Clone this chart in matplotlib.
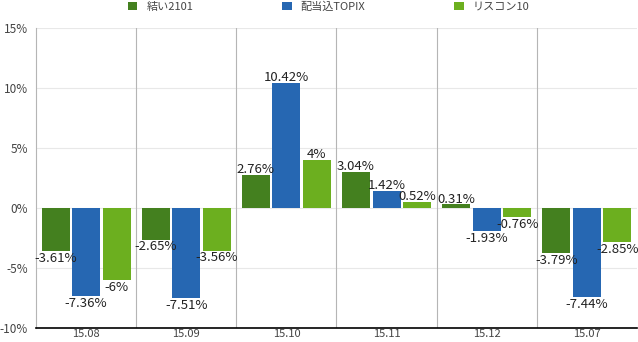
import numpy as np
import matplotlib.pyplot as plt

plt.rcParams['font.family'] = ['Noto Sans CJK JP', 'DejaVu Sans']

months = ['15.08', '15.09', '15.10', '15.11', '15.12', '15.07']
series_names = ['結い2101', '配当込TOPIX', 'リスコン10']
yui = [-3.61, -2.65, 2.76, 3.04, 0.31, -3.79]
topix = [-7.36, -7.51, 10.42, 1.42, -1.93, -7.44]
riscon = [-6, -3.56, 4, 0.52, -0.76, -2.85]
colors = ['#44801f', '#2667b2', '#6caf1f']

fig = plt.figure(figsize=(6.38, 3.42), dpi=100)
ax = fig.add_axes([36 / 638, 14 / 342, 601 / 638, 300 / 342])

x = np.arange(len(months))
offsets = [-0.305, 0, 0.305]
width = 0.28
handles = []
for vals, off, col, name in zip([yui, topix, riscon], offsets, colors, series_names):
    bars = ax.bar(x + off, vals, width, color=col, label=name, zorder=3)
    handles.append(bars)
    for xi, v in zip(x + off, vals):
        txt = f'{v:g}%'
        if v >= 0:
            ax.annotate(txt, (xi, v), xytext=(0, -1), textcoords='offset points',
                        ha='center', va='bottom', fontsize=9.5, color='#222222', zorder=4)
        else:
            ax.annotate(txt, (xi, v), xytext=(0, -0.5), textcoords='offset points',
                        ha='center', va='top', fontsize=9.5, color='#222222', zorder=4)

ax.set_xlim(-0.5, len(months) - 0.5)
ax.set_ylim(-10, 15)
ax.set_yticks(np.arange(-10, 16, 5))
ax.set_yticklabels([f'{t}%' for t in range(-10, 16, 5)])
ax.set_xticks(x)
ax.set_xticklabels(months)
ax.tick_params(length=0, labelsize=8.5, colors='#444444', pad=6)
ax.tick_params(axis='x', labelsize=8, pad=0.5)

for yv in range(-5, 16, 5):
    ax.axhline(yv, color='#e8e8e8', lw=0.8, zorder=1)
for xv in np.arange(0.5, len(months) - 1, 1):
    ax.axvline(xv, color='#b5b5b5', lw=0.8, zorder=1)

for s in ['top', 'right']:
    ax.spines[s].set_visible(False)
ax.spines['left'].set_color('#b5b5b5')
ax.spines['left'].set_linewidth(0.8)
ax.spines['bottom'].set_color('#000000')
ax.spines['bottom'].set_linewidth(1.2)

fig.legend(handles=handles, loc='upper left', bbox_to_anchor=(118 / 638, 1.025), ncol=3,
           frameon=False, fontsize=8, handlelength=0.85, handleheight=0.85,
           columnspacing=8.0, handletextpad=0.8, labelcolor='#444444')

fig.savefig('out.png', dpi=100)
